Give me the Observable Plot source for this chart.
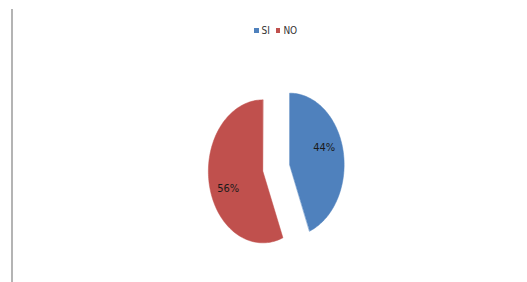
<!DOCTYPE html>
<html>
<head>
<meta charset="utf-8">
<script src="https://cdn.jsdelivr.net/npm/d3@7"></script>
<script src="https://cdn.jsdelivr.net/npm/@observablehq/plot@0.6"></script>
<style>
  html, body { margin: 0; padding: 0; background: #fff; }
  #wrap { position: relative; width: 527px; height: 282px; overflow: hidden; }
  #vline { position: absolute; left: 11px; top: 9px; bottom: 0; width: 1.5px; background: #b4b4b4; }
  #legend { position: absolute; top: 25px; left: 254px; display: flex; align-items: center;
    font-family: "Liberation Sans Narrow", "Arial Narrow", "DejaVu Sans Condensed", sans-serif;
    font-size: 10px; color: #333; }
  #legend .item { display: flex; align-items: center; margin-right: 6px; }
  #legend .sw { width: 4.5px; height: 5px; margin-right: 3px; }
  #chart { position: absolute; left: 0; top: 0; }
</style>
</head>
<body>
<div id="wrap">
  <div id="vline"></div>
  <div id="chart"></div>
  <div id="legend"></div>
</div>
<script>
const categories = ["SI", "NO"];
const values = [44, 56];
const labels = ["44%", "56%"];
const colors = ["#4f81bd", "#c0504d"];

const explode = 0.25;
const arcs = d3.pie().sort(null).startAngle(0).endAngle(2 * Math.PI)(values);

const slicePoints = [];
const labelPoints = [];
arcs.forEach((a, i) => {
  const mid = (a.startAngle + a.endAngle) / 2;
  const cx = explode * Math.sin(mid);
  const cy = explode * Math.cos(mid);
  slicePoints.push({cat: categories[i], x: cx, y: cy});
  const n = 120;
  for (let k = 0; k <= n; k++) {
    const t = a.startAngle + (a.endAngle - a.startAngle) * k / n;
    slicePoints.push({cat: categories[i], x: cx + Math.sin(t), y: cy + Math.cos(t)});
  }
  const la = mid - 0.175;
  labelPoints.push({cat: categories[i], text: labels[i], x: cx + 0.68 * Math.sin(la), y: cy + 0.68 * Math.cos(la)});
});

const chart = Plot.plot({
  width: 527,
  height: 282,
  margin: 0,
  x: {domain: [-1, 1], range: [221.25, 330.25], axis: null},
  y: {domain: [-1, 1], range: [239, 96], axis: null},
  color: {domain: categories, range: colors},
  marks: [
    Plot.line(slicePoints, {x: "x", y: "y", z: "cat", fill: "cat", stroke: "cat", strokeWidth: 0.5, curve: "linear-closed"}),
    Plot.text(labelPoints, {x: "x", y: "y", text: "text", fill: "#1a1a1a",
      fontFamily: "'Liberation Sans Narrow', 'Arial Narrow', 'DejaVu Sans Condensed', sans-serif",
      fontSize: 11})
  ]
});
document.getElementById("chart").appendChild(chart);

const legend = document.getElementById("legend");
categories.forEach((c, i) => {
  const item = document.createElement("div");
  item.className = "item";
  const sw = document.createElement("span");
  sw.className = "sw";
  sw.style.background = colors[i];
  const tx = document.createElement("span");
  tx.textContent = c;
  item.appendChild(sw);
  item.appendChild(tx);
  legend.appendChild(item);
});
</script>
</body>
</html>
